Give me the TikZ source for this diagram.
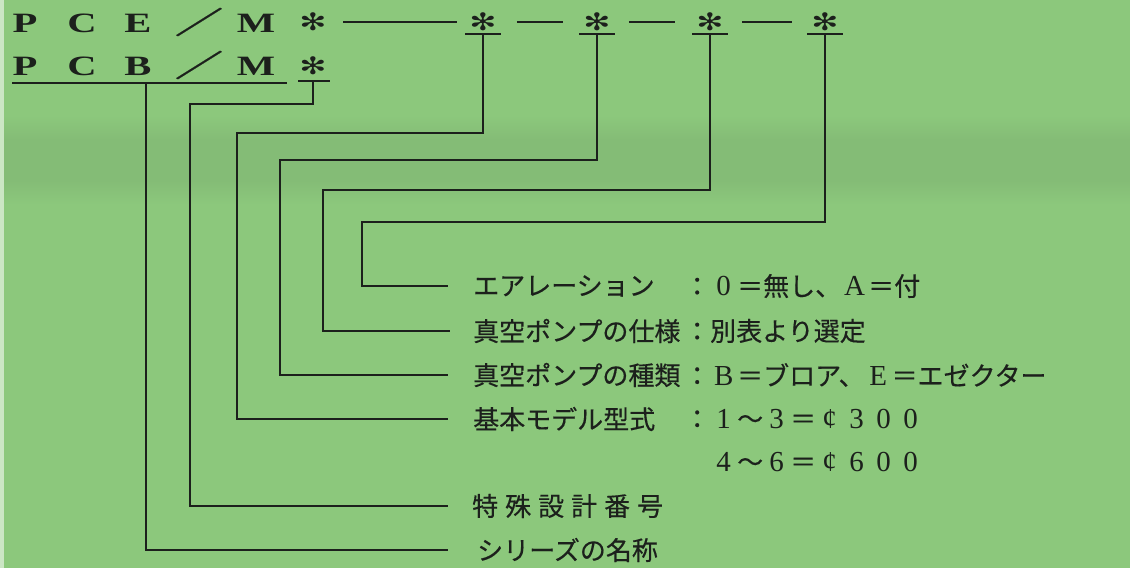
\documentclass[tikz,border=0pt]{standalone}
\usepackage{fontspec}
\setmainfont{Liberation Serif}
\newfontfamily\jp[FakeBold=0.35]{Noto Sans CJK JP}
\newfontfamily\dv{DejaVu Sans}
\definecolor{bg}{HTML}{8CC87C}
\definecolor{bgdark}{HTML}{84BC76}
\definecolor{ink}{HTML}{1C201C}
\newcommand\fwc[1]{\makebox[27pt]{\rmfamily\fontsize{29}{30}\selectfont #1}}
\newcommand\wsp[1]{\makebox[33pt][l]{#1}}
\begin{document}
\begin{tikzpicture}[x=1pt,y=-1pt,
  conn/.style={draw=ink,line width=1.7pt},
  rule/.style={draw=ink,line width=1.8pt},
  code/.style={inner sep=0pt,text=ink,xscale=1.45,font=\fontsize{28}{30}\selectfont\bfseries},
  slash/.style={inner sep=0pt,text=ink,xscale=1.6,font=\jp\fontsize{30}{32}\selectfont\bfseries},
  star/.style={inner sep=0pt,text=ink,xscale=1.35,font=\dv\fontsize{24}{26}\selectfont},
  lab/.style={inner sep=0pt,anchor=west,text=ink,font=\jp\fontsize{26}{30}\selectfont},
]
\useasboundingbox (0,0) rectangle (1130,568);
\fill[bg] (0,0) rectangle (1130,568);
\shade[top color=bg,bottom color=bgdark] (0,115) rectangle (1130,140);
\fill[bgdark] (0,140) rectangle (1130,180);
\shade[top color=bgdark,bottom color=bg] (0,180) rectangle (1130,205);
\fill[white!55!bg] (0,0) rectangle (4,568);

% code rows
\node[code] (p1) at (25,23) {P};
\node[code] (c1) at (82,23) {C};
\node[code] (e1) at (138,23) {E};
\node[slash] (q1) at (199,22) {／};
\node[code] (m1) at (256,23) {M};
\node[star] (a1) at (313,22) {✻};
\node[star] (s1) at (483,22) {✻};
\node[star] (s2) at (597,22) {✻};
\node[star] (s3) at (710,22) {✻};
\node[star] (s4) at (825,22) {✻};
\node[code] (p2) at (25,66) {P};
\node[code] (c2) at (82,66) {C};
\node[code] (b2) at (138,66) {B};
\node[slash] (q2) at (199,65) {／};
\node[code] (m2) at (256,66) {M};
\node[star] (a2) at (313,66) {✻};

% dashes between the asterisks
\coordinate (d0) at (343,22);
\draw[rule] (d0) -- ([xshift=-12]s1.west);
\draw[rule] ([xshift=20]s1.east) -- ([xshift=-20]s2.west);
\draw[rule] ([xshift=18]s2.east) -- ([xshift=-21]s3.west);
\draw[rule] ([xshift=18]s3.east) -- ([xshift=-19]s4.west);

% underlines
\coordinate (ul0) at (12,83);
\coordinate (ul1) at (287,83);
\draw[rule] (ul0) -- (ul1);
\coordinate (ua) at (313,81);
\draw[rule] (298,81) -- (330,81);
\foreach \n/\x in {s1/483,s2/597,s3/710,s4/825}{
  \draw[rule] (\x-18,34) -- (\x+18,34);
  \coordinate (u\n) at (\x,34);
}
\coordinate (u0) at (146,83);

% labels
\node[lab] (l1) at (473,286) {エアレーション};
\node[lab] (v1) at (684,286) {：\fwc{0}＝無し、\fwc{A}＝付};
\node[lab] (l2) at (473,331) {真空ポンプの仕様};
\node[lab] (v2) at (684,331) {：別表より選定};
\node[lab] (l3) at (473,375) {真空ポンプの種類};
\node[lab] (v3) at (684,375) {：\fwc{B}＝ブロア、\fwc{E}＝エゼクター};
\node[lab] (l4) at (473,419) {基本モデル型式};
\node[lab] (v4) at (684,419) {：\fwc{1}〜\fwc{3}＝\fwc{¢}\fwc{3}\fwc{0}\fwc{0}};
\node[lab] (v5) at (710,462) {\fwc{4}〜\fwc{6}＝\fwc{¢}\fwc{6}\fwc{0}\fwc{0}};
\node[lab] (l6) at (472,506) {\wsp{特}\wsp{殊}\wsp{設}\wsp{計}\wsp{番}\wsp{号}};
\node[lab] (l7) at (477,550) {シリーズの名称};

% corners
\coordinate (k1) at (190,104);
\coordinate (k2) at (237,133);
\coordinate (k3) at (280,160);
\coordinate (k4) at (323,190);
\coordinate (k5) at (362,222);

% connectors
\draw[conn] (us4) |- (k5) |- ([xshift=-25]l1.west);
\draw[conn] (us3) |- (k4) |- ([xshift=-23]l2.west);
\draw[conn] (us2) |- (k3) |- ([xshift=-25]l3.west);
\draw[conn] (us1) |- (k2) |- ([xshift=-25]l4.west);
\draw[conn] (ua) |- (k1) |- ([xshift=-24]l6.west);
\draw[conn] (u0) |- ([xshift=-29]l7.west);
\end{tikzpicture}
\end{document}
